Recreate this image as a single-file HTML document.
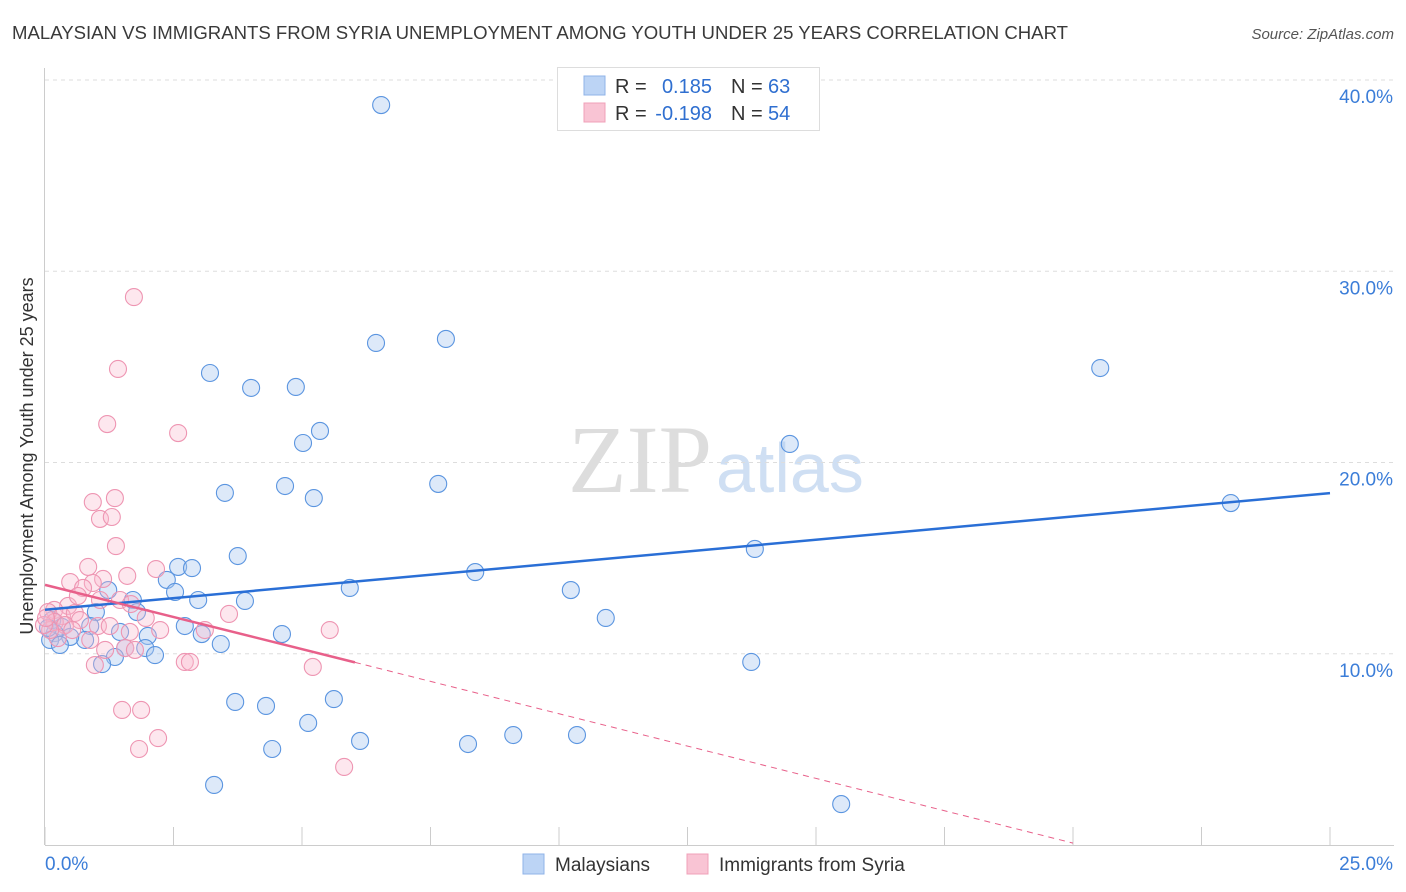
<!DOCTYPE html>
<html><head><meta charset="utf-8"><style>
body{margin:0;background:#fff;font-family:"Liberation Sans",sans-serif;}
svg{display:block}
</style></head><body>
<svg id="chart" width="1406" height="892">
<text x="12" y="39" font-size="18" fill="#3a3a3a" textLength="1056" lengthAdjust="spacingAndGlyphs">MALAYSIAN VS IMMIGRANTS FROM SYRIA UNEMPLOYMENT AMONG YOUTH UNDER 25 YEARS CORRELATION CHART</text>
<text x="1394" y="39" font-size="15" fill="#555" text-anchor="end" font-style="italic">Source: ZipAtlas.com</text>
<text x="712" y="492" font-size="96" fill="#ddd" text-anchor="end" font-family="Liberation Serif,serif">ZIP</text>
<text x="716" y="492" font-size="70" fill="#cfdff3">atlas</text>
<g id="grid"></g>
<g id="axes"></g>
<g id="pts"></g>
<g id="trend"></g>
<text transform="translate(33,456) rotate(-90)" font-size="18" fill="#333" text-anchor="middle">Unemployment Among Youth under 25 years</text>
<g>
<rect x="557.5" y="67.5" width="262" height="63" fill="#fff" stroke="#ddd"/>
<rect x="584" y="76" width="21" height="19" fill="#bcd4f5" stroke="#8fb3e8"/>
<rect x="584" y="103" width="21" height="19" fill="#f9c4d4" stroke="#f0a0b8"/>
<text x="615" y="93" font-size="20" fill="#333">R = </text><text x="712" y="93" font-size="20" fill="#2f6fd0" text-anchor="end">0.185</text>
<text x="731" y="93" font-size="20" fill="#333">N = </text><text x="768" y="93" font-size="20" fill="#2f6fd0">63</text>
<text x="615" y="120" font-size="20" fill="#333">R = </text><text x="712" y="120" font-size="20" fill="#2f6fd0" text-anchor="end">-0.198</text>
<text x="731" y="120" font-size="20" fill="#333">N = </text><text x="768" y="120" font-size="20" fill="#2f6fd0">54</text>
</g>
<g>
<rect x="523" y="854" width="21" height="20" fill="#bcd4f5" stroke="#8fb3e8"/>
<text x="555" y="871" font-size="19" fill="#333">Malaysians</text>
<rect x="687" y="854" width="21" height="20" fill="#f9c4d4" stroke="#f0a0b8"/>
<text x="719" y="871" font-size="19" fill="#333">Immigrants from Syria</text>
</g>
</svg>
<script>
const xTicks=[0,2.5,5,7.5,10,12.5,15,17.5,20,22.5,25];
const yTicks=[10,20,30,40];
const blueX=[],blueY=[],pinkX=[],pinkY=[];
const bluePx=[[381,105],[376,343],[446,339],[1100,368],[210,373],[251,388],[296,387],[320,431],[303,443],[790,444],[225,493],[285,486],[314,498],[438,484],[1231,503],[238,556],[755,549],[178,567],[192,568],[167,580],[175,592],[108,590],[475,572],[350,588],[571,590],[133,600],[198,600],[245,601],[96,612],[137,612],[606,618],[185,626],[282,634],[202,634],[120,632],[148,636],[62,627],[90,626],[85,640],[70,637],[55,633],[50,640],[60,645],[145,648],[125,648],[221,644],[155,655],[115,657],[102,664],[751,662],[235,702],[266,706],[334,699],[308,723],[272,749],[360,741],[468,744],[513,735],[577,735],[214,785],[841,804],[52,620],[48,628]];
const pinkPx=[[134,297],[118,369],[107,424],[178,433],[93,502],[115,498],[100,519],[112,517],[116,546],[88,567],[156,569],[127,576],[70,582],[103,579],[93,583],[83,588],[120,600],[131,604],[68,606],[54,610],[48,612],[62,616],[75,613],[80,620],[146,618],[229,614],[330,630],[98,626],[110,626],[130,632],[160,630],[205,630],[55,622],[65,625],[90,640],[58,638],[105,650],[125,648],[135,650],[95,665],[185,662],[190,662],[313,667],[122,710],[141,710],[158,738],[139,749],[344,767],[50,630],[72,630],[44,625],[46,618],[100,600],[78,596]];
bluePx.forEach(p=>{blueX.push(+((p[0]-45)/51.4).toFixed(2));blueY.push(+((845-p[1])/19.125).toFixed(2));});
pinkPx.forEach(p=>{pinkX.push(+((p[0]-45)/51.4).toFixed(2));pinkY.push(+((845-p[1])/19.125).toFixed(2));});
const blueTrend=[[0,12.3],[25,18.4]];
const pinkTrend=[[0,13.6],[6.03,9.55],[20,0.1]];
const X=v=>45+v*51.4, Y=v=>845-v*19.125;
const NS='http://www.w3.org/2000/svg';
function mk(t,a,parent){const e=document.createElementNS(NS,t);for(const k in a)e.setAttribute(k,a[k]);document.getElementById(parent).appendChild(e);return e;}
yTicks.forEach(t=>{
 const l=mk('line',{x1:45,x2:1394,y1:Y(t),y2:Y(t),stroke:'#ddd','stroke-dasharray':'4,4'},'grid');
 
 
 const tx=mk('text',{x:1393,y:Y(t)+23,'font-size':19,fill:'#3b7dd8','text-anchor':'end'},'grid');
 tx.textContent=t.toFixed(1)+'%';
 
 
});
const ax=mk('line',{x1:44.5,x2:44.5,y1:68,y2:845,stroke:'#ccc'},'axes');


const bx=mk('line',{x1:45,x2:1394,y1:845.5,y2:845.5,stroke:'#ccc'},'axes');


xTicks.forEach(t=>{
 const l=mk('line',{x1:X(t),x2:X(t),y1:827,y2:845,stroke:'#ccc'},'axes');
 
 
});
[[0,'start'],[25,'end']].forEach(([t,a])=>{
 const tx=mk('text',{x:t==0?45:1393,y:870,'font-size':19,fill:'#3b7dd8','text-anchor':a},'axes');
 tx.textContent=t.toFixed(1)+'%';
 
 
});
blueX.forEach((x,i)=>{
 const c=mk('circle',{cx:X(x),cy:Y(blueY[i]),r:8.5,fill:'rgba(170,200,240,0.4)',stroke:'#5b95e0','stroke-width':1.1},'pts');
 
 
});
pinkX.forEach((x,i)=>{
 const c=mk('circle',{cx:X(x),cy:Y(pinkY[i]),r:8.5,fill:'rgba(248,185,205,0.35)',stroke:'#ee95b2','stroke-width':1.1},'pts');
 
 
});
const bl=mk('line',{x1:X(blueTrend[0][0]),y1:Y(blueTrend[0][1]),x2:X(blueTrend[1][0]),y2:Y(blueTrend[1][1]),stroke:'#2a6fd6','stroke-width':2.5},'trend');


const pl=mk('line',{x1:X(pinkTrend[0][0]),y1:Y(pinkTrend[0][1]),x2:X(pinkTrend[1][0]),y2:Y(pinkTrend[1][1]),stroke:'#e8608a','stroke-width':2.5},'trend');


const pd=mk('line',{x1:X(pinkTrend[1][0]),y1:Y(pinkTrend[1][1]),x2:X(pinkTrend[2][0]),y2:Y(pinkTrend[2][1]),stroke:'#e8608a','stroke-width':1,'stroke-dasharray':'6,5'},'trend');


</script>
</body></html>
